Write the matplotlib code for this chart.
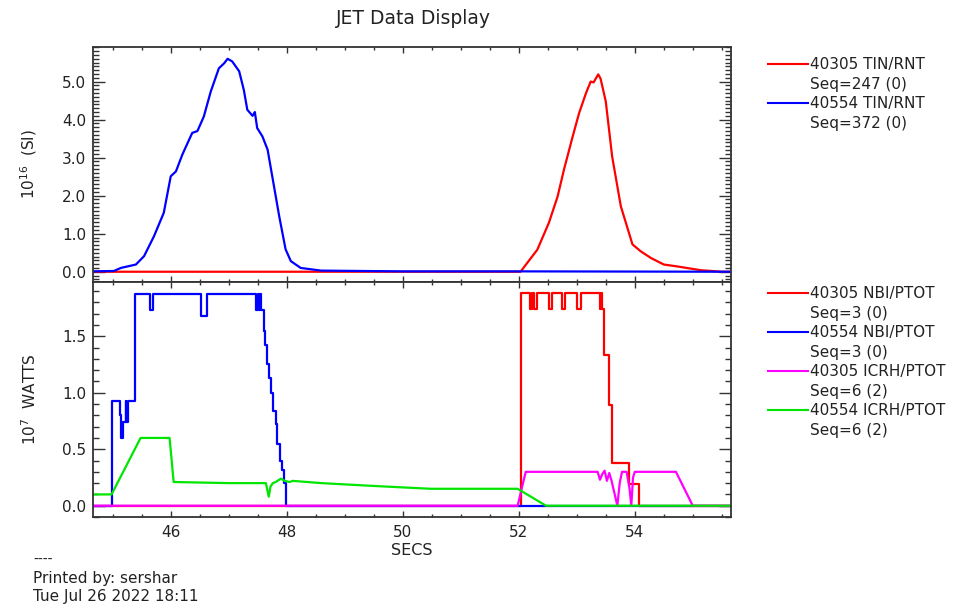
import matplotlib
matplotlib.use('Agg')
import matplotlib.pyplot as plt
from matplotlib.lines import Line2D
from matplotlib.ticker import MultipleLocator, FormatStrFormatter

plt.rcParams['font.family'] = ['DejaVu Sans']

# ---- data ----
# top panel: TIN/RNT (10^16 SI)
t_tin_40305 = [44.66, 50.0, 52.03, 52.32, 52.52, 52.67, 52.78, 52.93, 53.04, 53.16, 53.24, 53.29,
               53.37, 53.41, 53.50, 53.61, 53.76, 53.96, 54.10, 54.28, 54.50, 54.73, 55.14, 55.50, 55.66]
v_tin_40305 = [0.0, 0.0, 0.0, 0.58, 1.29, 1.98, 2.69, 3.56, 4.17, 4.70, 5.00, 4.98,
               5.19, 5.08, 4.48, 3.03, 1.72, 0.72, 0.54, 0.36, 0.19, 0.14, 0.04, 0.0, 0.0]

t_tin_40554 = [44.66, 45.02, 45.14, 45.40, 45.54, 45.71, 45.88, 46.00, 46.09, 46.20, 46.37, 46.46,
               46.57, 46.69, 46.83, 46.92, 46.98, 47.06, 47.18, 47.26, 47.32, 47.41, 47.44, 47.45,
               47.49, 47.58, 47.67, 47.75, 47.87, 47.98, 48.07, 48.24, 48.59, 50.0, 52.0, 55.66]
v_tin_40554 = [0.01, 0.02, 0.10, 0.19, 0.41, 0.93, 1.55, 2.51, 2.64, 3.08, 3.65, 3.70,
               4.08, 4.74, 5.35, 5.48, 5.60, 5.53, 5.27, 4.78, 4.26, 4.10, 4.17, 4.20,
               3.78, 3.56, 3.21, 2.51, 1.46, 0.59, 0.28, 0.10, 0.03, 0.01, 0.01, 0.0]

# bottom panel: NBI (step signals) and ICRH (10^7 W)
t_nbi_40305 = [44.66, 52.03, 52.19, 52.22, 52.27, 52.31, 52.52, 52.58, 52.75, 52.80, 53.01, 53.07,
               53.40, 53.42, 53.43, 53.47, 53.56, 53.60, 53.90, 54.07, 55.66]
v_nbi_40305 = [0.0, 1.88, 1.74, 1.88, 1.74, 1.88, 1.74, 1.88, 1.74, 1.88, 1.74, 1.88,
               1.74, 1.88, 1.74, 1.33, 0.89, 0.375, 0.19, 0.0, 0.0]

t_nbi_40554 = [44.66, 44.99, 45.13, 45.15, 45.18, 45.22, 45.23, 45.26, 45.38, 45.64, 45.70, 46.53,
               46.63, 47.47, 47.50, 47.52, 47.54, 47.56, 47.60, 47.62, 47.66, 47.69, 47.73, 47.76,
               47.81, 47.84, 47.88, 47.92, 47.95, 47.99, 55.66]
v_nbi_40554 = [0.0, 0.93, 0.80, 0.60, 0.74, 0.93, 0.74, 0.93, 1.87, 1.73, 1.87, 1.68,
               1.87, 1.73, 1.87, 1.73, 1.87, 1.73, 1.55, 1.42, 1.25, 1.13, 1.00, 0.84,
               0.72, 0.55, 0.40, 0.32, 0.20, 0.0, 0.0]

t_icrh_40305 = [44.66, 51.98, 52.12, 53.36, 53.40, 53.44, 53.48, 53.52, 53.56, 53.60, 53.70, 53.74,
                53.78, 53.86, 53.91, 53.94, 53.97, 54.00, 54.71, 55.00, 55.66]
v_icrh_40305 = [0.0, 0.0, 0.30, 0.30, 0.23, 0.28, 0.31, 0.22, 0.29, 0.22, 0.0, 0.20,
                0.30, 0.30, 0.15, 0.0, 0.25, 0.30, 0.30, 0.0, 0.0]

t_icrh_40554 = [44.66, 44.98, 45.48, 45.98, 46.05, 47.00, 47.64, 47.69, 47.72, 47.76, 47.81, 47.90,
                47.96, 48.05, 48.10, 48.60, 49.50, 50.48, 51.30, 51.98, 52.47, 55.66]
v_icrh_40554 = [0.10, 0.10, 0.60, 0.60, 0.21, 0.20, 0.20, 0.08, 0.17, 0.20, 0.21, 0.24,
                0.22, 0.21, 0.22, 0.20, 0.175, 0.15, 0.15, 0.15, 0.0, 0.0]

top_labels = ['40305 TIN/RNT', 'Seq=247 (0)', '40554 TIN/RNT', 'Seq=372 (0)']
bot_labels = ['40305 NBI/PTOT', 'Seq=3 (0)', '40554 NBI/PTOT', 'Seq=3 (0)',
              '40305 ICRH/PTOT', 'Seq=6 (2)', '40554 ICRH/PTOT', 'Seq=6 (2)']

RED, BLUE, MAG, GRN = '#ff0000', '#0000ff', '#ff00ff', '#00e600'
FG = '#333333'
lw = 1.6

fig = plt.figure(figsize=(9.56, 6.04), dpi=100)
ax1 = fig.add_axes([0.0973, 0.5331, 0.6674, 0.3891])
ax2 = fig.add_axes([0.0973, 0.1440, 0.6674, 0.3891])

ax1.plot(t_tin_40305, v_tin_40305, color=RED, lw=lw)
ax1.plot(t_tin_40554, v_tin_40554, color=BLUE, lw=lw)

ax2.plot(t_nbi_40305, v_nbi_40305, color=RED, lw=lw, drawstyle='steps-post')
ax2.plot(t_nbi_40554, v_nbi_40554, color=BLUE, lw=lw, drawstyle='steps-post')
ax2.plot(t_icrh_40305, v_icrh_40305, color=MAG, lw=lw)
ax2.plot(t_icrh_40554, v_icrh_40554, color=GRN, lw=lw)

for ax in (ax1, ax2):
    ax.set_xlim(44.66, 55.66)
    ax.xaxis.set_major_locator(MultipleLocator(2))
    ax.xaxis.set_minor_locator(MultipleLocator(0.5))
    ax.tick_params(axis='both', which='both', direction='in', top=True, right=True,
                   colors=FG, labelcolor='#222222', labelsize=11, width=1)
    ax.tick_params(axis='x', which='major', length=4.3, pad=6)
    ax.tick_params(axis='x', which='minor', length=2.5)
    ax.tick_params(axis='y', which='major', length=8.5, pad=5)
    ax.tick_params(axis='y', which='minor', length=4)
    ax.yaxis.set_major_formatter(FormatStrFormatter('%.1f'))
    for s in ax.spines.values():
        s.set_color(FG)
        s.set_linewidth(1.3)

ax1.set_ylim(-0.27, 5.91)
ax1.yaxis.set_major_locator(MultipleLocator(1.0))
ax1.yaxis.set_minor_locator(MultipleLocator(0.1))
ax1.tick_params(axis='x', labelbottom=False)

ax2.set_ylim(-0.1, 1.98)
ax2.yaxis.set_major_locator(MultipleLocator(0.5))
ax2.yaxis.set_minor_locator(MultipleLocator(0.1))
ax2.set_xlabel('SECS', fontsize=11.5, color='#222222', labelpad=2)

ax1.set_ylabel('10$^{16}$  (SI)', fontsize=11, color='#222222')
ax2.set_ylabel('10$^{7}$  WATTS', fontsize=11, color='#222222')
ax1.yaxis.set_label_coords(-0.085, 0.5)
ax2.yaxis.set_label_coords(-0.085, 0.5)

fig.text(0.432, 1 - 18 / 604, 'JET Data Display', ha='center', va='center',
         fontsize=13.5, color='#222222')

# legends (one row per text line, handle only on first line)
blank = Line2D([], [], color='none')
top_handles = [Line2D([], [], color=RED, lw=1.5), blank,
               Line2D([], [], color=BLUE, lw=1.5), blank]
bot_handles = [Line2D([], [], color=RED, lw=1.5), blank,
               Line2D([], [], color=BLUE, lw=1.5), blank,
               Line2D([], [], color=MAG, lw=1.5), blank,
               Line2D([], [], color=GRN, lw=1.5), blank]
leg_kw = dict(loc='upper left', frameon=False, borderpad=0, borderaxespad=0,
              handlelength=2.6, handletextpad=0.15, labelspacing=0.3,
              prop={'size': 11}, labelcolor='#222222')
fig.legend(top_handles, top_labels, bbox_to_anchor=(768 / 956, 1 - 57 / 604), **leg_kw)
fig.legend(bot_handles, bot_labels, bbox_to_anchor=(768 / 956, 1 - 286 / 604), **leg_kw)

fig.text(33 / 956, 1 - 560 / 604, '----', ha='left', va='center', fontsize=10, color='#222222')
fig.text(33 / 956, 1 - 578 / 604, 'Printed by: sershar', ha='left', va='center', fontsize=11,
         color='#222222')
fig.text(33 / 956, 1 - 597 / 604, 'Tue Jul 26 2022 18:11', ha='left', va='center', fontsize=11,
         color='#222222')

fig.savefig('out.png', dpi=100)
